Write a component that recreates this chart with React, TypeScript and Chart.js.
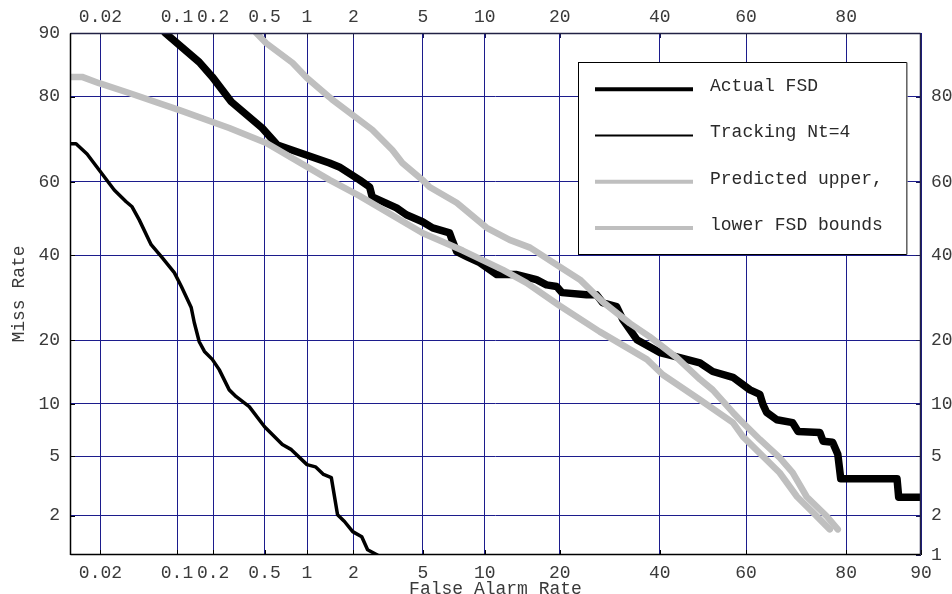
import React, { useEffect, useRef } from 'react';
import { Chart, registerables } from 'chart.js';

Chart.register(...registerables);

// ---- tick labels (percent) ----
const xTicksBottom = [0.02, 0.1, 0.2, 0.5, 1, 2, 5, 10, 20, 40, 60, 80, 90];
const xTicksTop = [0.02, 0.1, 0.2, 0.5, 1, 2, 5, 10, 20, 40, 60, 80];
const yTicksLeft = [2, 5, 10, 20, 40, 60, 80, 90];
const yTicksRight = [1, 2, 5, 10, 20, 40, 60, 80];
const xRange = [0.01, 90];
const yRange = [1, 90];

// ---- series (False Alarm %, Miss %) ----
const seriesLabels = ['Actual FSD', 'Tracking Nt=4', 'Predicted upper,', 'lower FSD bounds'];

const actualFA = [0.079, 0.154, 0.197, 0.279, 0.48, 0.62, 1.41, 1.63, 2.18, 2.51, 2.6, 3.59, 4.07, 4.97, 5.61, 6.83, 7.08, 7.4, 8.26, 9.49, 11.3, 13.7, 16.4, 17.9, 19.5, 20.4, 24.7, 26.6, 27.8, 30.6, 31.9, 34.9, 40.0, 44.6, 49.3, 52.3, 57.0, 60.9, 63.1, 63.8, 64.6, 66.8, 70.1, 71.2, 75.4, 76.0, 77.7, 78.6, 79.1, 87.3, 87.5, 90.0];
const actualMiss = [90, 86.0, 83.6, 79.0, 73.4, 69.4, 64.9, 63.9, 60.5, 58.6, 55.9, 52.9, 51.0, 49.1, 47.4, 46.0, 43.6, 40.9, 39.6, 38.0, 34.9, 34.9, 33.6, 32.3, 31.9, 30.4, 29.9, 29.9, 28.0, 27.1, 24.2, 20.1, 17.7, 16.8, 15.9, 14.5, 13.6, 11.8, 11.2, 9.9, 9.0, 8.2, 7.9, 7.05, 6.95, 6.17, 6.1, 5.15, 3.6, 3.6, 2.7, 2.7];

const trackFA = [0.01, 0.0115, 0.0148, 0.0271, 0.0351, 0.0398, 0.0463, 0.0593, 0.0743, 0.0948, 0.109, 0.132, 0.14, 0.154, 0.17, 0.197, 0.224, 0.269, 0.305, 0.384, 0.5, 0.57, 0.673, 0.78, 1.0, 1.14, 1.29, 1.45, 1.59, 1.76, 1.98, 2.25, 2.44, 2.79];
const trackMiss = [69.7, 69.7, 67.2, 57.8, 54.6, 53.2, 49.6, 42.8, 39.3, 35.4, 31.9, 26.9, 23.6, 19.7, 17.9, 16.5, 14.8, 11.8, 10.9, 9.66, 7.5, 6.76, 5.9, 5.5, 4.44, 4.3, 3.84, 3.66, 2.03, 1.81, 1.52, 1.39, 1.1, 1.0];

const upperFA = [0.434, 0.515, 0.793, 1.0, 1.41, 1.47, 2.6, 3.4, 3.87, 4.97, 5.41, 7.4, 10.2, 12.8, 15.5, 20.0, 23.5, 27.8, 33.4, 37.7, 43.9, 49.3, 52.3, 57.0, 58.6, 63.1, 67.4, 70.1, 72.9, 76.7, 78.6];
const upperMiss = [90, 88.7, 85.9, 83.4, 79.9, 79.4, 73.0, 68.2, 64.9, 60.5, 58.6, 54.3, 47.4, 44.1, 42.0, 36.9, 33.6, 28.2, 23.4, 20.7, 16.8, 13.3, 11.8, 9.0, 8.2, 6.33, 4.91, 3.94, 2.72, 1.97, 1.58];

const lowerFA = [0.01, 0.0132, 0.0194, 0.0374, 0.105, 0.269, 0.515, 1.41, 2.18, 4.97, 7.91, 12.0, 15.0, 20.0, 27.2, 37.1, 40.7, 49.3, 57.0, 59.3, 67.4, 71.0, 74.1, 77.2];
const lowerMiss = [83.6, 83.6, 82.5, 80.7, 77.3, 73.4, 69.9, 60.5, 56.2, 46.0, 41.2, 36.1, 32.8, 27.3, 21.7, 16.5, 14.0, 10.5, 7.9, 6.58, 3.94, 2.72, 2.11, 1.58];

// inverse normal CDF (Acklam) -> normal deviate scale
function probit(p: number): number {
  const a = [-39.69683028665376, 220.9460984245205, -275.9285104469687, 138.357751867269, -30.66479806614716, 2.506628277459239];
  const b = [-54.47609879822406, 161.5858368580409, -155.6989798598866, 66.80131188771972, -13.28068155288572];
  const c = [-0.007784894002430293, -0.3223964580411365, -2.400758277161838, -2.549732539343734, 4.374664141464968, 2.938163982698783];
  const d = [0.007784695709041462, 0.3224671290700398, 2.445134137142996, 3.754408661907416];
  const pl = 0.02425;
  if (p < pl) {
    const q = Math.sqrt(-2 * Math.log(p));
    return (((((c[0] * q + c[1]) * q + c[2]) * q + c[3]) * q + c[4]) * q + c[5]) / ((((d[0] * q + d[1]) * q + d[2]) * q + d[3]) * q + 1);
  }
  if (p > 1 - pl) {
    const q = Math.sqrt(-2 * Math.log(1 - p));
    return -(((((c[0] * q + c[1]) * q + c[2]) * q + c[3]) * q + c[4]) * q + c[5]) / ((((d[0] * q + d[1]) * q + d[2]) * q + d[3]) * q + 1);
  }
  const q = p - 0.5;
  const r = q * q;
  return (((((a[0] * r + a[1]) * r + a[2]) * r + a[3]) * r + a[4]) * r + a[5]) * q / (((((b[0] * r + b[1]) * r + b[2]) * r + b[3]) * r + b[4]) * r + 1);
}
const pz = (pct: number) => probit(pct / 100);
const toPoints = (fa: number[], miss: number[]) => fa.map((f, i) => ({ x: pz(f), y: pz(miss[i]) }));

const FONT = "'Liberation Mono', 'Courier New', monospace";
const GRID = '#1c1c8c';
const TXT = '#3a3a3a';
const GRAY = '#bfbfbf';
const legendWidths = [4, 2, 4, 4];

const framePlugin = {
  id: 'frame',
  afterDatasetsDraw(chart: any) {
    const { ctx, chartArea } = chart;
    const { left, right, top, bottom } = chartArea;
    const xs = chart.scales.x;
    const ys = chart.scales.y;
    ctx.save();
    ctx.lineWidth = 1;
    const seg = (x1: number, y1: number, x2: number, y2: number, col: string) => {
      ctx.strokeStyle = col;
      ctx.beginPath();
      ctx.moveTo(x1, y1);
      ctx.lineTo(x2, y2);
      ctx.stroke();
    };
    xTicksBottom.forEach((v) => {
      const px = Math.round(xs.getPixelForValue(pz(v))) + 0.5;
      seg(px, bottom, px, bottom - 5, '#000');
    });
    xTicksTop.forEach((v) => {
      const px = Math.round(xs.getPixelForValue(pz(v))) + 0.5;
      seg(px, top, px, top + 5, '#1a1a55');
    });
    yTicksLeft.forEach((v) => {
      const py = Math.round(ys.getPixelForValue(pz(v))) + 0.5;
      seg(left, py, left + 5, py, '#000');
    });
    yTicksRight.forEach((v) => {
      const py = Math.round(ys.getPixelForValue(pz(v))) + 0.5;
      seg(right - 5, py, right, py, '#1a1a55');
    });
    const L = Math.round(left) + 0.5, R = Math.round(right) - 0.5;
    const T = Math.round(top) + 0.5, B = Math.round(bottom) - 0.5;
    ctx.lineWidth = 1.5;
    seg(L, T, R, T, '#222244');
    seg(R, T, R, B, '#222244');
    seg(L, T, L, B + 0.5, '#000');
    seg(L, B, R, B, '#000');
    ctx.restore();
  },
  afterDraw(chart: any) {
    const { ctx } = chart;
    const bx = 578.5, by = 62.5, bw = 328, bh = 192;
    ctx.save();
    ctx.fillStyle = '#fff';
    ctx.fillRect(bx, by, bw, bh);
    ctx.strokeStyle = '#000';
    ctx.lineWidth = 1;
    ctx.strokeRect(bx, by, bw, bh);
    ctx.strokeStyle = '#888';
    ctx.lineWidth = 1.5;
    ctx.beginPath();
    ctx.moveTo(bx + bw + 0.5, by);
    ctx.lineTo(bx + bw + 0.5, by + bh);
    ctx.stroke();
    ctx.font = `18px ${FONT}`;
    ctx.textBaseline = 'alphabetic';
    ctx.textAlign = 'left';
    chart.data.datasets.forEach((ds: any, i: number) => {
      const y = 89.3 + i * 46.2;
      ctx.strokeStyle = ds.borderColor;
      ctx.lineWidth = legendWidths[i];
      ctx.lineCap = 'butt';
      ctx.beginPath();
      ctx.moveTo(595, y);
      ctx.lineTo(693, y);
      ctx.stroke();
      ctx.fillStyle = '#2a2a2a';
      ctx.fillText(ds.label, 710, y + 1.8);
    });
    ctx.restore();
  },
};

function makeTicks(list: number[]) {
  return (scale: any) => {
    scale.ticks = list.map((v) => ({ value: pz(v) }));
  };
}

export default function App() {
  const ref = useRef<HTMLCanvasElement | null>(null);
  useEffect(() => {
    if (!ref.current) return;
    const tickFont = { family: FONT, size: 18 };
    const lineBase = { pointRadius: 0, tension: 0, borderCapStyle: 'round', borderJoinStyle: 'round', clip: 0, fill: false };
    const chart = new Chart(ref.current, {
      type: 'line',
      data: {
        datasets: [
          { ...lineBase, label: seriesLabels[0], data: toPoints(actualFA, actualMiss), borderColor: '#000', borderWidth: 7.5, order: 3 },
          { ...lineBase, label: seriesLabels[1], data: toPoints(trackFA, trackMiss), borderColor: '#000', borderWidth: 3.5, order: 2 },
          { ...lineBase, label: seriesLabels[2], data: toPoints(upperFA, upperMiss), borderColor: GRAY, borderWidth: 6.5, order: 1 },
          { ...lineBase, label: seriesLabels[3], data: toPoints(lowerFA, lowerMiss), borderColor: GRAY, borderWidth: 6.5, order: 0 },
        ] as any,
      },
      options: {
        responsive: false,
        animation: false,
        devicePixelRatio: 1,
        events: [],
        layout: { padding: 0 },
        plugins: { legend: { display: false }, tooltip: { enabled: false }, title: { display: false } },
        scales: {
          x: {
            type: 'linear', position: 'bottom', min: pz(xRange[0]), max: pz(xRange[1]),
            afterBuildTicks: makeTicks(xTicksBottom),
            afterFit: (s: any) => { s.height = 39; },
            ticks: { autoSkip: false, maxRotation: 0, minRotation: 0, padding: 7, color: TXT, font: tickFont, callback: (_v: any, i: number) => String(xTicksBottom[i]) },
            grid: { color: GRID, lineWidth: 1, drawTicks: false },
            border: { display: false },
            title: { display: true, text: 'False Alarm Rate', color: TXT, font: { family: FONT, size: 18, lineHeight: 0.7 }, padding: { top: 0, bottom: -2 } },
          },
          x2: {
            type: 'linear', position: 'top', min: pz(xRange[0]), max: pz(xRange[1]),
            afterBuildTicks: makeTicks(xTicksTop),
            afterFit: (s: any) => { s.height = 33; },
            ticks: { autoSkip: false, maxRotation: 0, minRotation: 0, padding: 5, color: TXT, font: tickFont, callback: (_v: any, i: number) => String(xTicksTop[i]) },
            grid: { display: false, drawTicks: false },
            border: { display: false },
          },
          y: {
            type: 'linear', position: 'left', min: pz(yRange[0]), max: pz(yRange[1]),
            afterBuildTicks: makeTicks(yTicksLeft),
            afterFit: (s: any) => { s.width = 70; },
            ticks: { autoSkip: false, padding: 10, color: TXT, font: tickFont, callback: (_v: any, i: number) => String(yTicksLeft[i]) },
            grid: { color: GRID, lineWidth: 1, drawTicks: false },
            border: { display: false },
            title: { display: true, text: 'Miss Rate', color: TXT, font: { family: FONT, size: 18 }, padding: { top: 8, bottom: 0 } },
          },
          y2: {
            type: 'linear', position: 'right', min: pz(yRange[0]), max: pz(yRange[1]),
            afterBuildTicks: makeTicks(yTicksRight),
            afterFit: (s: any) => { s.width = 31; },
            ticks: { autoSkip: false, padding: 10, color: TXT, font: tickFont, callback: (_v: any, i: number) => String(yTicksRight[i]) },
            grid: { display: false, drawTicks: false },
            border: { display: false },
          },
        },
      } as any,
      plugins: [framePlugin],
    });
    return () => chart.destroy();
  }, []);
  return (
    <div style={{ position: 'absolute', left: 0, top: 0, width: 952, height: 594, background: '#fff' }}>
      <canvas ref={ref} width={952} height={594} style={{ display: 'block' }} />
    </div>
  );
}
